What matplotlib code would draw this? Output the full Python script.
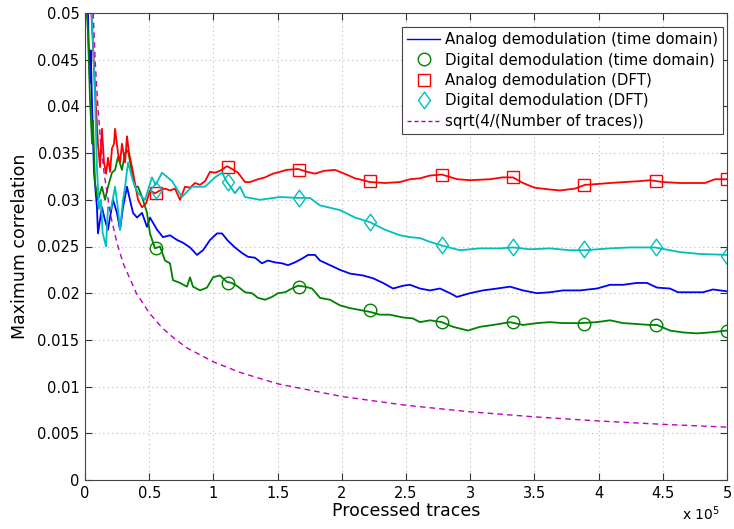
import matplotlib
matplotlib.use("Agg")
import matplotlib.pyplot as plt
from matplotlib.lines import Line2D
from matplotlib.path import Path

# ---------------- data ----------------
blue_x = [2000, 2800, 3900, 4500, 5500, 7000, 9300, 10100, 13200, 15600, 17900, 21800, 24900,
          27300, 29600, 32700, 35000, 37400, 40500, 44400, 48300, 50600, 56100, 60700, 66200,
          71700, 76300, 81800, 87200, 91900, 97400, 102800, 106700, 111400, 116800, 122300,
          126900, 132400, 137800, 142500, 148000, 153400, 158100, 163500, 169000, 173700,
          179100, 183000, 190800, 198600, 206400, 216500, 224300, 232100, 239900, 247700,
          253100, 260900, 268700, 276500, 284300, 289700, 299800, 310000, 320900, 331000,
          341100, 352000, 362100, 372300, 385500, 398700, 408900, 419000, 429900, 437700,
          445500, 455600, 461800, 471200, 481300, 489100, 500000]
blue_y = [0.052, 0.0470, 0.0425, 0.046, 0.040, 0.033, 0.0292, 0.0264, 0.0292, 0.0278, 0.0268,
          0.0300, 0.0286, 0.0268, 0.0292, 0.0314, 0.0300, 0.0286, 0.0281, 0.0286, 0.0271,
          0.0281, 0.0268, 0.0260, 0.0262, 0.0257, 0.0254, 0.0249, 0.0241, 0.0246, 0.0257,
          0.0264, 0.0264, 0.0256, 0.0249, 0.0243, 0.0239, 0.0238, 0.0232, 0.0235, 0.0233,
          0.0232, 0.0230, 0.0233, 0.0237, 0.0241, 0.0241, 0.0235, 0.0230, 0.0225, 0.0221,
          0.0219, 0.0216, 0.0211, 0.0205, 0.0208, 0.0209, 0.0205, 0.0203, 0.0205, 0.0200,
          0.0196, 0.0200, 0.0203, 0.0205, 0.0207, 0.0203, 0.0200, 0.0201, 0.0203, 0.0203,
          0.0205, 0.0209, 0.0209, 0.0211, 0.0211, 0.0206, 0.0205, 0.0201, 0.0201, 0.0201,
          0.0204, 0.0202]

green_x = [500, 2300, 3900, 5500, 6200, 7800, 10100, 13200, 15600, 17900, 21000, 23400, 25700,
           28800, 31200, 33500, 36600, 38900, 41300, 44400, 48300, 50600, 53000, 54500, 58400,
           62300, 66200, 68500, 74000, 79400, 81800, 84100, 89600, 95000, 99700, 105100,
           110600, 114500, 119200, 124600, 130100, 134700, 140200, 145600, 150300, 155800,
           161200, 165900, 171300, 176800, 183000, 190800, 198600, 206400, 214200, 222000,
           229700, 237500, 247700, 255400, 260900, 268700, 278000, 286600, 298300, 307600,
           317800, 331000, 341100, 352000, 362100, 372300, 385500, 398700, 408900, 419000,
           429900, 440000, 445500, 455600, 465700, 476600, 486800, 500000]
green_y = [0.052, 0.048, 0.0407, 0.036, 0.0385, 0.0318, 0.0300, 0.0314, 0.0300, 0.0314, 0.0329,
           0.0332, 0.0346, 0.0332, 0.0350, 0.0353, 0.0329, 0.0314, 0.0314, 0.0303, 0.0286,
           0.0264, 0.0254, 0.0248, 0.0250, 0.0235, 0.0232, 0.0214, 0.0211, 0.0207, 0.0217,
           0.0207, 0.0203, 0.0206, 0.0217, 0.0219, 0.0212, 0.0211, 0.0207, 0.0201, 0.0200,
           0.0195, 0.0193, 0.0196, 0.0200, 0.0201, 0.0205, 0.0208, 0.0207, 0.0205, 0.0195,
           0.0193, 0.0187, 0.0184, 0.0182, 0.0180, 0.0177, 0.0177, 0.0174, 0.0173, 0.0169,
           0.0171, 0.0169, 0.0164, 0.0160, 0.0164, 0.0166, 0.0169, 0.0166, 0.0168, 0.0169,
           0.0168, 0.0168, 0.0169, 0.0171, 0.0168, 0.0167, 0.0166, 0.0166, 0.0160, 0.0158,
           0.0157, 0.0158, 0.0160]

red_x = [5000, 7800, 10100, 11700, 13200, 14800, 16400, 17900, 19500, 21000, 22600, 23400,
         25700, 27300, 28800, 31200, 32700, 34300, 36600, 38900, 41300, 44400, 47500, 50600,
         54500, 58400, 62300, 66200, 70100, 74000, 77900, 81800, 85700, 89600, 93500, 97400,
         101200, 105100, 110600, 114500, 119200, 124600, 128500, 134700, 140200, 146400,
         152000, 157000, 165900, 172900, 179100, 186000, 194700, 202000, 210300, 216500,
         222000, 233600, 245300, 253100, 260900, 268700, 278000, 290000, 300000, 315400,
         325000, 333300, 341100, 350000, 362100, 369900, 381600, 389400, 400000, 408900,
         420000, 432200, 440000, 450000, 463400, 475000, 482900, 490600, 500000]
red_y = [0.050, 0.042, 0.036, 0.0335, 0.0376, 0.0340, 0.0328, 0.0345, 0.0330, 0.0355, 0.0360,
         0.0376, 0.0350, 0.0340, 0.0360, 0.0340, 0.0368, 0.0350, 0.0335, 0.0318, 0.0300,
         0.0292, 0.0296, 0.0310, 0.0307, 0.0310, 0.0312, 0.0310, 0.0312, 0.0300, 0.0314,
         0.0313, 0.0318, 0.0316, 0.0320, 0.0330, 0.0329, 0.0331, 0.0336, 0.0333, 0.0329,
         0.0319, 0.0319, 0.0322, 0.0324, 0.0328, 0.0330, 0.0332, 0.0333, 0.0330, 0.0328,
         0.0331, 0.0332, 0.0328, 0.0323, 0.0321, 0.0319, 0.0318, 0.0319, 0.0322, 0.0323,
         0.0326, 0.0327, 0.0322, 0.0321, 0.0322, 0.0324, 0.0324, 0.0318, 0.0313, 0.0311,
         0.0310, 0.0312, 0.0316, 0.0317, 0.0318, 0.0319, 0.0320, 0.0321, 0.0319, 0.0318,
         0.0318, 0.0318, 0.0322, 0.0322]

cyan_x = [4500, 6200, 7800, 9300, 10900, 12500, 13700, 16400, 17900, 20200, 23400, 25700,
          27300, 29600, 31200, 33500, 37400, 41300, 46700, 52200, 55000, 60000, 67800, 75500,
          83300, 93500, 101200, 106700, 110600, 116800, 120700, 124600, 136300, 151900,
          165900, 175200, 183000, 198600, 210300, 222000, 233600, 245300, 253100, 260900,
          268700, 278000, 292000, 307600, 323200, 333300, 346600, 362100, 377700, 389400,
          408900, 424400, 443900, 463400, 479000, 500000]
cyan_y = [0.052, 0.047, 0.041, 0.0335, 0.0290, 0.0300, 0.0265, 0.0250, 0.0292, 0.0290, 0.0314,
          0.0290, 0.0268, 0.0300, 0.0314, 0.0340, 0.0320, 0.0307, 0.0300, 0.0324, 0.0316,
          0.0329, 0.0320, 0.0303, 0.0314, 0.0314, 0.0324, 0.0329, 0.0319, 0.0307, 0.0314,
          0.0303, 0.0300, 0.0303, 0.0302, 0.0302, 0.0294, 0.0289, 0.0281, 0.0276, 0.0268,
          0.0262, 0.0260, 0.0259, 0.0255, 0.0251, 0.0246, 0.0248, 0.0248, 0.0249, 0.0247,
          0.0248, 0.0246, 0.0246, 0.0248, 0.0249, 0.0249, 0.0244, 0.0242, 0.0241]

sqrt_x = [6400, 8000, 10000, 12000, 15000, 20000, 25000, 30000, 40000, 50000, 60000, 70000,
          80000, 100000, 120000, 150000, 200000, 250000, 300000, 350000, 400000, 450000, 500000]
sqrt_y = [0.0500, 0.0447, 0.0400, 0.0365, 0.0327, 0.0283, 0.0253, 0.0231, 0.0200, 0.0179,
          0.0163, 0.0151, 0.0141, 0.01265, 0.01155, 0.0103, 0.00894, 0.0080, 0.0073, 0.00676,
          0.00632, 0.00596, 0.00566]

marker_x = [55555, 111111, 166667, 222222, 277778, 333333, 388889, 444444, 500000]
green_m = [0.0248, 0.0211, 0.0207, 0.0182, 0.0169, 0.0169, 0.0167, 0.0166, 0.0160]
red_m = [0.0307, 0.0335, 0.0332, 0.0320, 0.0327, 0.0324, 0.0316, 0.0320, 0.0322]
cyan_m = [0.0310, 0.0319, 0.0302, 0.0276, 0.0252, 0.0249, 0.0247, 0.0249, 0.0240]

xtick_vals = [0, 0.5, 1, 1.5, 2, 2.5, 3, 3.5, 4, 4.5, 5]
ytick_vals = [0, 0.005, 0.01, 0.015, 0.02, 0.025, 0.03, 0.035, 0.04, 0.045, 0.05]

labels = ["Analog demodulation (time domain)", "Digital demodulation (time domain)",
          "Analog demodulation (DFT)", "Digital demodulation (DFT)",
          "sqrt(4/(Number of traces))"]

# ---------------- styling ----------------
C_BLUE = "#0000FF"
C_GREEN = "#008000"
C_RED = "#FF0000"
C_CYAN = "#00BFBF"
C_MAG = "#BF00BF"

# MATLAB-like diamond (taller than wide)
DIAMOND = Path([(0, 1), (0.72, 0), (0, -1), (-0.72, 0), (0, 1)],
               [Path.MOVETO, Path.LINETO, Path.LINETO, Path.LINETO, Path.CLOSEPOLY])

plt.rcParams['font.family'] = ['DejaVu Sans']

fig = plt.figure(figsize=(7.34, 5.29), dpi=100)
ax = fig.add_axes([85 / 734, 1 - 480 / 529, 642 / 734, 467 / 529])

lw = 1.3
ax.plot(blue_x, blue_y, color=C_BLUE, lw=lw)
ax.plot(green_x, green_y, color=C_GREEN, lw=lw)
ax.plot(marker_x, green_m, ls='none', marker='o', ms=9, mfc='none', mec=C_GREEN, mew=1.0)
ax.plot(red_x, red_y, color=C_RED, lw=lw)
ax.plot(marker_x, red_m, ls='none', marker='s', ms=8.5, mfc='none', mec=C_RED, mew=1.0)
ax.plot(cyan_x, cyan_y, color=C_CYAN, lw=lw)
ax.plot(marker_x, cyan_m, ls='none', marker=DIAMOND, ms=12, mfc='none', mec=C_CYAN, mew=1.0)
ax.plot(sqrt_x, sqrt_y, color=C_MAG, lw=1.0, ls=(0, (4, 3)))

ax.set_xlim(0, 500000)
ax.set_ylim(0, 0.05)
ax.set_xticks([v * 1e5 for v in xtick_vals])
ax.set_xticklabels([("%g" % v) for v in xtick_vals])
ax.set_yticks(ytick_vals)
ax.set_yticklabels([("%g" % v) for v in ytick_vals])
ax.tick_params(direction='in', top=True, right=True, length=5, width=0.8,
               labelsize=10.5, colors='#333333', labelcolor='black', pad=4)
ax.grid(True, ls=(0, (1, 3)), color='#BBBBBB', lw=0.8)
for s in ax.spines.values():
    s.set_color('#444444')
    s.set_linewidth(0.8)

ax.set_xlabel("Processed traces", fontsize=12.5, labelpad=1)
ax.set_ylabel("Maximum correlation", fontsize=12.5, labelpad=6)
fig.text(682 / 734, 1 - 514 / 529, r"x 10$^{5}$", fontsize=10, ha='left', va='center')

handles = [
    Line2D([], [], color=C_BLUE, lw=1.0),
    Line2D([], [], ls='none', marker='o', ms=9, mfc='none', mec=C_GREEN),
    Line2D([], [], ls='none', marker='s', ms=8.5, mfc='none', mec=C_RED),
    Line2D([], [], ls='none', marker=DIAMOND, ms=12, mfc='none', mec=C_CYAN),
    Line2D([], [], color=C_MAG, lw=1.0, ls=(0, (3, 2))),
]
leg = ax.legend(handles, labels, loc='upper right',
                bbox_to_anchor=((723 - 85) / 642, (480 - 27) / 467),
                fontsize=10.8, frameon=True, fancybox=False, framealpha=1,
                edgecolor='#444444', handlelength=2.2, handletextpad=0.3,
                labelspacing=0.36, borderpad=0.35, borderaxespad=0.0)
leg.get_frame().set_linewidth(0.8)

fig.savefig("out.png", dpi=100)
